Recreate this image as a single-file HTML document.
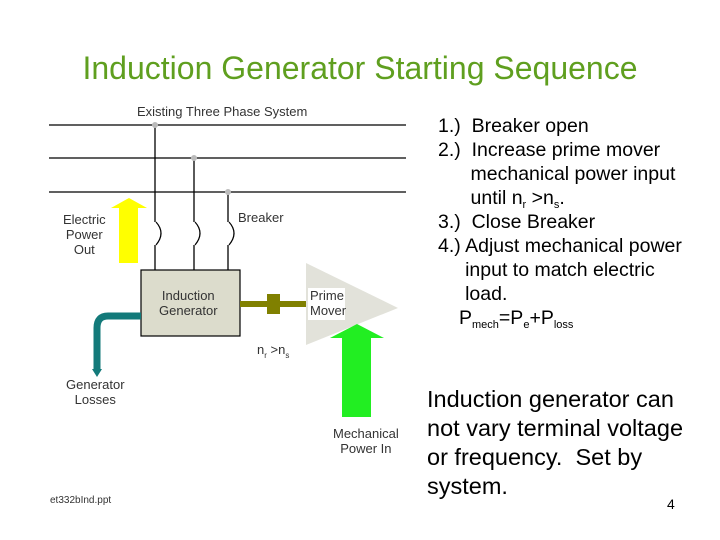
<!DOCTYPE html>
<html><head><style>
body{margin:0;width:720px;height:540px;background:#fff;position:relative;overflow:hidden;font-family:"Liberation Sans",Arial,sans-serif}
.t{position:absolute;white-space:nowrap;line-height:1}
.s{font-size:13px;color:#333;text-align:center}
.r{font-size:19.5px;color:#000}
sub{font-size:11px;vertical-align:-4px;line-height:0}
</style></head><body>
<div class="t" style="left:0;width:720px;top:52px;text-align:center;font-size:32px;color:#5f9f1f">Induction Generator Starting Sequence</div>
<svg width="720" height="540" style="position:absolute;left:0;top:0">
<g stroke="#000" stroke-width="1.3">
<line x1="49" y1="125" x2="406" y2="125"/><line x1="49" y1="158" x2="406" y2="158"/><line x1="49" y1="192" x2="406" y2="192"/>
<line x1="155" y1="125" x2="155" y2="222"/><line x1="155" y1="245" x2="155" y2="270"/>
<line x1="194" y1="158" x2="194" y2="222"/><line x1="194" y1="245" x2="194" y2="270"/>
<line x1="228" y1="192" x2="228" y2="222"/><line x1="228" y1="245" x2="228" y2="270"/>
</g>
<g fill="none" stroke="#000" stroke-width="1.2">
<path d="M156 222 Q166 233 156 245"/><path d="M195 222 Q205 233 195 245"/><path d="M229 222 Q239 233 229 245"/>
</g>
<g fill="#bbb"><circle cx="155" cy="125" r="3"/><circle cx="194" cy="158" r="3"/><circle cx="228" cy="192" r="3"/></g>
<polygon points="119,263 138,263 138,208 147,208 129,198 111,208 119,208" fill="#ffff00"/>
<rect x="141" y="270" width="99" height="66" fill="#dcdccc" stroke="#000" stroke-width="1.2"/>
<rect x="240" y="301" width="66" height="6" fill="#808000"/>
<rect x="267" y="294" width="13" height="20" fill="#808000"/>
<polygon points="306,263 398,308 306,345" fill="#e2e2da"/>
<rect x="308" y="288" width="37" height="32" fill="#fff"/>
<polygon points="342,417 371,417 371,338 384,338 357,324 330,338 342,338" fill="#22ee22"/>
<path d="M141 316 L108 316 Q97 316 97 328 L97 370" fill="none" stroke="#137a7a" stroke-width="7"/>
<polygon points="92,369 102,369 97,377" fill="#137a7a"/>
</svg>
<div class="t s" style="left:137px;top:105px">Existing Three Phase System</div>
<div class="t s" style="left:63px;top:212px;line-height:15px">Electric<br>Power<br>Out</div>
<div class="t s" style="left:238px;top:211px">Breaker</div>
<div class="t s" style="left:159px;top:288px;line-height:15px">Induction<br>Generator</div>
<div class="t s" style="left:310px;top:288px;line-height:15px;text-align:left">Prime<br>Mover</div>
<div class="t s" style="left:257px;top:343px">n<sub style="font-size:8px">r</sub> &gt;n<sub style="font-size:8px">s</sub></div>
<div class="t s" style="left:66px;top:377px;line-height:15px">Generator<br>Losses</div>
<div class="t s" style="left:333px;top:426px;line-height:15px">Mechanical<br>Power In</div>
<div class="t" style="left:50px;top:496px;font-size:10px;color:#333">et332bInd.ppt</div>
<div class="t r" style="left:438px;top:114px;line-height:24px">1.)&nbsp; Breaker open<br>2.)&nbsp; Increase prime mover<br>&nbsp;&nbsp;&nbsp;&nbsp;&nbsp; mechanical power input<br>&nbsp;&nbsp;&nbsp;&nbsp;&nbsp; until n<sub>r</sub> &gt;n<sub>s</sub>.<br>3.)&nbsp; Close Breaker<br>4.) Adjust mechanical power<br>&nbsp;&nbsp;&nbsp;&nbsp; input to match electric<br>&nbsp;&nbsp;&nbsp;&nbsp; load.</div>
<div class="t r" style="left:459px;top:309px">P<sub>mech</sub>=P<sub>e</sub>+P<sub>loss</sub></div>
<div class="t" style="left:427px;top:385px;font-size:23.5px;line-height:29px">Induction generator can<br>not vary terminal voltage<br>or frequency.&nbsp; Set by<br>system.</div>
<div class="t" style="left:667px;top:497px;font-size:14px">4</div>
</body></html>
